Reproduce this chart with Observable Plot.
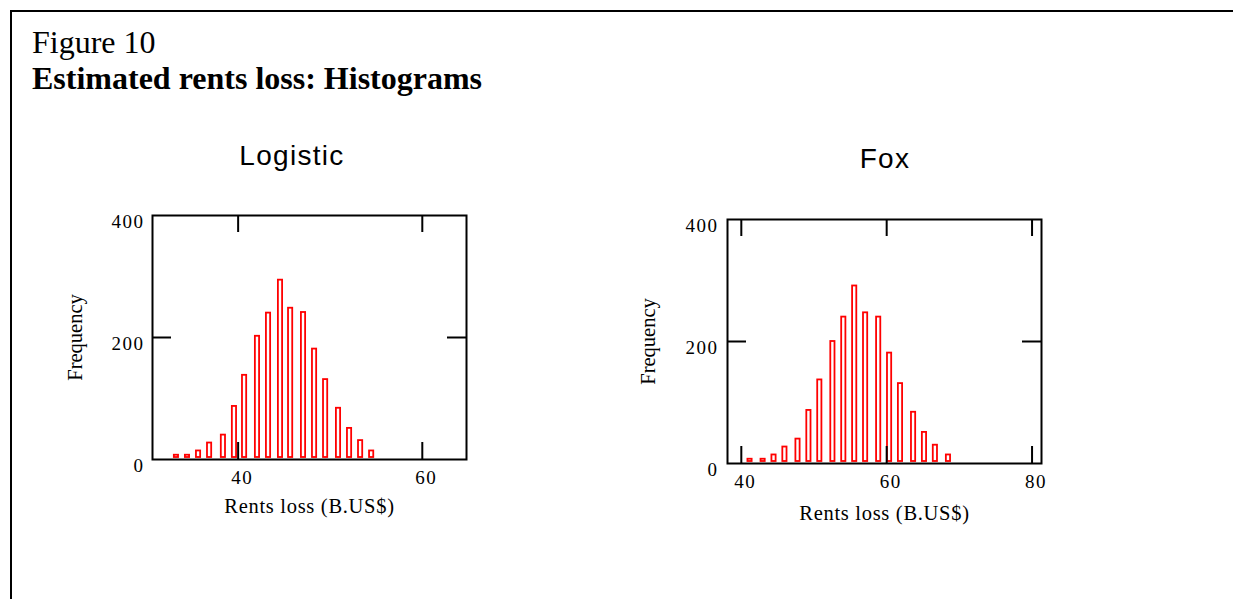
<!DOCTYPE html>
<html>
<head>
<meta charset="utf-8">
<script src="https://cdn.jsdelivr.net/npm/d3@7"></script>
<script src="https://cdn.jsdelivr.net/npm/@observablehq/plot@0.6"></script>
<style>
  html, body { margin: 0; padding: 0; background: #fff; }
  #page { position: relative; width: 1233px; height: 599px; overflow: hidden; background: #fff; }
  #border { position: absolute; left: 10px; top: 10px; width: 1300px; height: 700px;
            border-top: 2px solid #000; border-left: 2px solid #000; }
  .title { position: absolute; left: 32px; font-family: "Liberation Serif", "Times New Roman", serif;
           font-size: 32px; line-height: 1; white-space: nowrap; color: #000; }
  .ptitle { position: absolute; width: 300px; text-align: center; font-family: "Liberation Sans", Arial, sans-serif;
            font-size: 28px; line-height: 1; color: #000; letter-spacing: 1.3px; }
  .panel { position: absolute; }
</style>
</head>
<body>
<div id="page">
  <div id="border"></div>
  <div class="title" style="top:26px;">Figure 10</div>
  <div class="title" style="top:62px;font-weight:bold;">Estimated rents loss: Histograms</div>
  <div class="ptitle" style="left:142px;top:142px;">Logistic</div>
  <div class="ptitle" style="left:735px;top:145px;">Fox</div>
  <div class="panel" id="left" style="left:40px;top:185px;"></div>
  <div class="panel" id="right" style="left:615px;top:190px;"></div>
</div>
<script>
// ---- data ----
const logisticBins = [33.3, 34.5, 35.7, 36.9, 38.4, 39.6, 40.7, 42.1, 43.3, 44.6, 45.7, 47.1, 48.3, 49.5, 50.9, 52.1, 53.3, 54.5];
const logisticFreq = [7, 7, 14, 27, 40, 87, 138, 202, 240, 294, 248, 241, 181, 131, 84, 51, 31, 14];
const foxBins = [41.2, 43.0, 44.5, 46.0, 47.8, 49.3, 50.8, 52.6, 54.1, 55.6, 57.1, 58.9, 60.4, 61.9, 63.7, 65.2, 66.7, 68.5];
const foxFreq = [7, 7, 14, 27, 40, 87, 137, 200, 240, 291, 247, 240, 181, 131, 84, 51, 30, 14];
const logisticXTicks = [40, 60];
const foxXTicks = [40, 60, 80];
const yTicks = [0, 200, 400];
const yInnerTicks = [200];
const xLabel = "Rents loss (B.US$)";
const yLabel = "Frequency";

const serif = "Liberation Serif, Times New Roman, serif";

function panel({bins, freq, xDomain, xTicks, marginTop, marginBottom, yPad, yLabelDx, xTitleDy}) {
  const data = bins.map((x, i) => ({x, f: freq[i]}));
  const W = 450, H = 345, mL = 112, mR = 24;
  const fw = W - mL - mR;               // frame width
  const fh = H - marginTop - marginBottom; // frame height
  const pxPerUnit = fw / (xDomain[1] - xDomain[0]);
  const hw = 2.1 / pxPerUnit;           // half bar width (in data units)
  const svg = Plot.plot({
    width: W, height: H,
    marginLeft: mL, marginRight: mR, marginTop, marginBottom,
    x: {domain: xDomain},
    y: {domain: [0, 400]},
    style: {fontFamily: serif, background: "white", color: "black"},
    marks: [
      Plot.rect(data, {x1: d => d.x - hw, x2: d => d.x + hw, y1: 0, y2: "f",
                       fill: "white", stroke: "#ff0000", strokeWidth: 1.8, insetBottom: 2}),
      Plot.frame({stroke: "black", strokeWidth: 2}),
      Plot.tickX(xTicks, {x: d => d, insetBottom: fh - 17, stroke: "black", strokeWidth: 2}),
      Plot.tickX(xTicks, {x: d => d, insetTop: fh - 17, stroke: "black", strokeWidth: 2}),
      Plot.tickY(yInnerTicks, {y: d => d, insetRight: fw - 19, stroke: "black", strokeWidth: 2}),
      Plot.tickY(yInnerTicks, {y: d => d, insetLeft: fw - 19, stroke: "black", strokeWidth: 2}),
      Plot.axisY({ticks: yTicks, tickSize: 0, tickPadding: yPad, dy: 6, fontSize: 19,
                  fontFamily: serif, label: null, tickFormat: d => String(d)}),
      Plot.axisX({ticks: xTicks, tickSize: 0, tickPadding: 11, dx: 4, fontSize: 19,
                  fontFamily: serif, label: null, tickFormat: d => String(d)}),
      Plot.text([xLabel], {frameAnchor: "bottom", dy: xTitleDy, fontSize: 20.5, fontFamily: serif,
                           text: d => d}),
      Plot.text([yLabel], {frameAnchor: "left", dx: yLabelDx, rotate: -90, textAnchor: "middle",
                           fontSize: 20.5, fontFamily: serif, text: d => d})
    ]
  });
  // letter spacing to match the wide-set type of the original
  d3.select(svg).selectAll("[aria-label='y-axis tick label'] text, [aria-label='x-axis tick label'] text")
    .style("letter-spacing", "1.5px");
  d3.select(svg).selectAll("text").filter(function() { return this.textContent === xLabel; })
    .style("letter-spacing", "0.7px");
  return svg;
}

document.getElementById("left").appendChild(panel({
  bins: logisticBins, freq: logisticFreq, xDomain: [30.7, 64.8], xTicks: logisticXTicks,
  marginTop: 30, marginBottom: 71, yPad: 8, yLabelDx: -77, xTitleDy: 53
}));
document.getElementById("right").appendChild(panel({
  bins: foxBins, freq: foxFreq, xDomain: [38.1, 81.3], xTicks: foxXTicks,
  marginTop: 29, marginBottom: 72, yPad: 9, yLabelDx: -79, xTitleDy: 56
}));
</script>
</body>
</html>
